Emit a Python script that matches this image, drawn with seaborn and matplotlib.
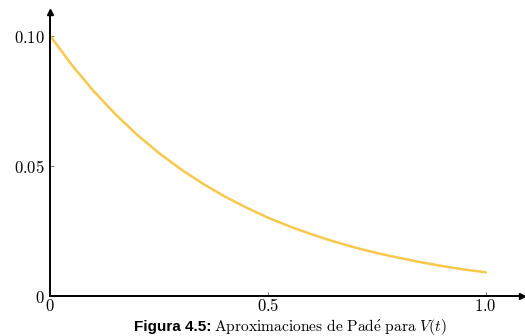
import matplotlib
matplotlib.use("Agg")
import matplotlib.pyplot as plt
import seaborn as sns
import pandas as pd

sns.set_style("white")
plt.rcParams['mathtext.fontset'] = 'cm'
plt.rcParams['text.color'] = 'black'
plt.rcParams['xtick.color'] = 'black'
plt.rcParams['ytick.color'] = 'black'

t_vals = [0.0, 0.05, 0.1, 0.15, 0.2, 0.25, 0.3, 0.35, 0.4, 0.45, 0.5,
          0.55, 0.6, 0.65, 0.7, 0.75, 0.8, 0.85, 0.9, 0.95, 1.0]
v_vals = [0.100, 0.0887, 0.0787, 0.0698, 0.0619, 0.0549, 0.0487, 0.0432,
          0.0383, 0.0340, 0.0301, 0.0267, 0.0237, 0.0210, 0.0186, 0.0165,
          0.0147, 0.0130, 0.0115, 0.0102, 0.0091]
x_ticks = [0, 0.5, 1.0]
x_labels = ['$0$', '$0.5$', '$1.0$']
y_ticks = [0, 0.05, 0.10]
y_labels = ['$0$', '$0.05$', '$0.10$']

df = pd.DataFrame({'t': t_vals, 'V': v_vals})

fig = plt.figure(figsize=(5.25, 3.36), dpi=100)
ax = fig.add_axes([0.0952, 0.119, 0.899, 0.845])

sns.lineplot(data=df, x='t', y='V', ax=ax, color='#f7c84c', lw=1.8)

ax.set_xlim(0, 1.083)
ax.set_ylim(0, 0.109)
ax.set_xticks(x_ticks)
ax.set_xticklabels(x_labels, fontsize=12)
ax.set_yticks(y_ticks)
ax.set_yticklabels(y_labels, fontsize=12)
ax.set_xlabel('')
ax.set_ylabel('')
ax.tick_params(direction='in', length=3, width=0.6, color='#555555',
               bottom=True, left=True)
ax.tick_params(axis='x', pad=1)
ax.tick_params(axis='y', pad=4)

for side in ['top', 'right']:
    ax.spines[side].set_visible(False)
for side in ['bottom', 'left']:
    ax.spines[side].set_color('black')
    ax.spines[side].set_linewidth(1.4)

# arrow heads at the ends of the axes
ax.plot(0, 1, marker='^', color='black', ms=4, transform=ax.transAxes,
        clip_on=False)
ax.plot(1, 0, marker='>', color='black', ms=4, transform=ax.transAxes,
        clip_on=False)

fig.text(0.403, 0.016, 'Figura 4.5:', fontsize=11, fontweight='bold',
         family='Liberation Sans', ha='right', va='baseline')
fig.text(0.407, 0.016,
         r'$\mathrm{Aproximaciones\ de\ Pad\acute{e}\ para\ }V(t)$',
         fontsize=11.2, ha='left', va='baseline')

fig.savefig('out.png', dpi=100)
